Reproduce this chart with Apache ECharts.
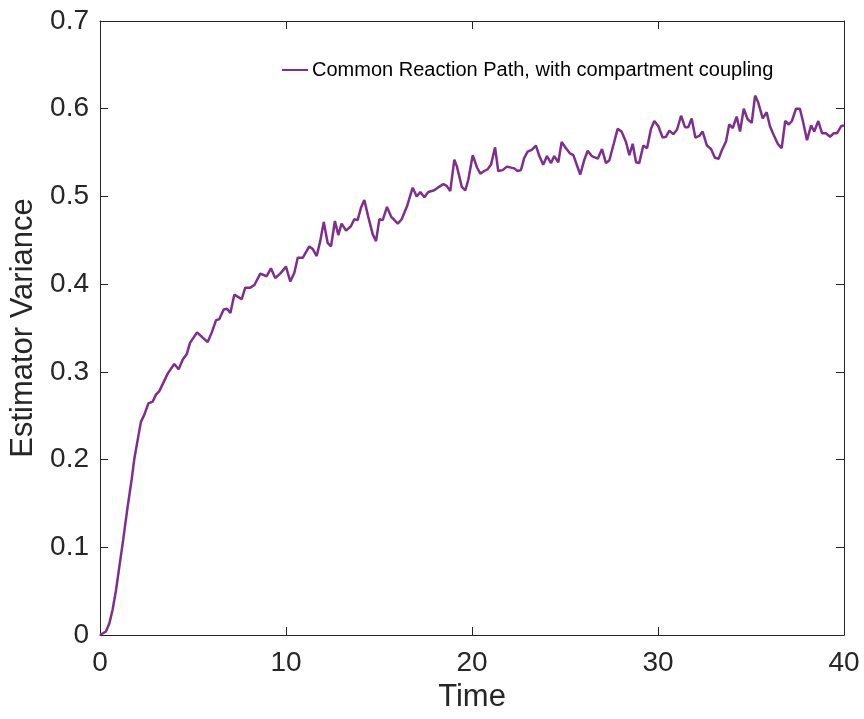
<!DOCTYPE html>
<html>
<head>
<meta charset="utf-8">
<script src="https://cdn.jsdelivr.net/npm/echarts@6/dist/echarts.min.js"></script>
<style>
  html, body { margin: 0; padding: 0; background: #ffffff; }
  #chart { width: 864px; height: 719px; }
</style>
</head>
<body>
<div id="chart"></div>
<script>
// Simulation time points
const time = [
  0, 0.32, 0.50, 0.68, 0.86, 1.04, 1.25, 1.49, 1.70, 1.84, 2.03, 2.20, 2.38, 2.60, 2.83,
  3.01, 3.19, 3.37, 3.64, 3.99, 4.23, 4.45, 4.66, 4.84, 5.22, 5.52, 5.79, 6.01, 6.24, 6.41,
  6.65, 6.83, 7.01, 7.22, 7.62, 7.81, 8.08, 8.30, 8.62, 8.96, 9.19, 9.42, 9.69, 10.00,
  10.23, 10.45, 10.63, 10.90, 11.25, 11.44, 11.65, 11.84, 12.03, 12.24, 12.42, 12.63, 12.81,
  12.99, 13.23, 13.49, 13.67, 13.85, 14.03, 14.21, 14.42, 14.66, 14.84, 15.02, 15.20, 15.43,
  15.65, 16.01, 16.22, 16.51, 16.81, 17.03, 17.22, 17.44, 17.65, 17.97, 18.16, 18.46, 18.64,
  18.83, 19.05, 19.19, 19.45, 19.64, 19.80, 20.04, 20.27, 20.45, 20.66, 20.84, 21.02, 21.24,
  21.41, 21.65, 21.87, 22.27, 22.45, 22.63, 22.81, 22.99, 23.21, 23.44, 23.62, 23.83, 24.03,
  24.25, 24.42, 24.64, 24.82, 25.05, 25.27, 25.45, 25.65, 25.82, 26.04, 26.22, 26.44, 26.76,
  26.99, 27.20, 27.38, 27.62, 27.83, 28.04, 28.28, 28.46, 28.64, 28.82, 28.99, 29.21, 29.41,
  29.62, 29.80, 30.02, 30.25, 30.43, 30.61, 30.82, 31.02, 31.24, 31.45, 31.63, 31.81, 32.01,
  32.22, 32.40, 32.63, 32.85, 33.06, 33.26, 33.42, 33.66, 33.83, 34.02, 34.23, 34.41, 34.61,
  34.82, 35.04, 35.22, 35.39, 35.63, 35.84, 36.02, 36.22, 36.44, 36.65, 36.84, 37.03, 37.20,
  37.42, 37.63, 37.81, 38.01, 38.23, 38.40, 38.62, 38.82, 39.03, 39.25, 39.45, 39.62, 39.84, 40.00
];

// Estimator variance, common reaction path with compartment coupling
const variance = [
  0, 0.004, 0.013, 0.029, 0.051, 0.078, 0.109, 0.147, 0.177, 0.200, 0.223, 0.243, 0.251, 0.264, 0.266,
  0.274, 0.278, 0.286, 0.298, 0.309, 0.303, 0.314, 0.320, 0.333, 0.345, 0.339, 0.334, 0.345, 0.359, 0.360,
  0.371, 0.372, 0.367, 0.388, 0.383, 0.396, 0.396, 0.399, 0.412, 0.409, 0.418, 0.407, 0.412, 0.420,
  0.403, 0.413, 0.430, 0.430, 0.443, 0.440, 0.432, 0.449, 0.471, 0.447, 0.443, 0.472, 0.456,
  0.469, 0.461, 0.466, 0.474, 0.473, 0.487, 0.496, 0.477, 0.457, 0.449, 0.474, 0.473, 0.488,
  0.477, 0.469, 0.474, 0.489, 0.510, 0.500, 0.505, 0.499, 0.505, 0.507, 0.510, 0.514, 0.512,
  0.506, 0.542, 0.534, 0.511, 0.507, 0.519, 0.547, 0.533, 0.526, 0.529, 0.531, 0.536, 0.556,
  0.529, 0.530, 0.534, 0.532, 0.529, 0.530, 0.544, 0.551, 0.553, 0.558, 0.546, 0.536, 0.546,
  0.538, 0.546, 0.539, 0.562, 0.555, 0.549, 0.547, 0.535, 0.525, 0.542, 0.552, 0.546, 0.543,
  0.554, 0.538, 0.541, 0.560, 0.577, 0.574, 0.562, 0.547, 0.560, 0.539, 0.538, 0.558, 0.555,
  0.577, 0.586, 0.580, 0.567, 0.568, 0.575, 0.571, 0.576, 0.592, 0.579, 0.579, 0.589, 0.567,
  0.569, 0.574, 0.558, 0.554, 0.544, 0.543, 0.552, 0.563, 0.582, 0.578, 0.591, 0.574, 0.600,
  0.588, 0.584, 0.615, 0.607, 0.589, 0.596, 0.580, 0.570, 0.560, 0.555, 0.586, 0.582, 0.586,
  0.600, 0.600, 0.584, 0.564, 0.581, 0.574, 0.586, 0.572, 0.572, 0.568, 0.572, 0.572, 0.580, 0.581
];

const seriesName = 'Common Reaction Path, with compartment coupling';
const xTicks = { min: 0, max: 40, interval: 10 };
const yTicks = { min: 0, max: 0.7, interval: 0.1 };

const ink = '#262626';
const lineColor = '#7E2F8E';
const font = '"Liberation Sans", Arial, Helvetica, sans-serif';

const points = time.map((t, i) => [t, variance[i]]);

const frameAxis = (extra) => Object.assign({
  type: 'value',
  axisLine: { show: true, onZero: false, lineStyle: { color: ink, width: 1 } },
  axisTick: { show: true, inside: true, length: 8, lineStyle: { color: ink, width: 1 } },
  splitLine: { show: false }
}, extra);

const chart = echarts.init(document.getElementById('chart'), null, { renderer: 'canvas' });
chart.setOption({
  backgroundColor: '#ffffff',
  animation: false,
  grid: { left: 100, right: 20, top: 21, bottom: 84, containLabel: false },
  legend: {
    show: true,
    left: 277,
    top: 55,
    icon: 'rect',
    itemWidth: 26,
    itemHeight: 2,
    itemGap: 6,
    textStyle: { fontFamily: font, fontSize: 20, color: '#000000', padding: [0, 0, 0, -1] },
    data: [{ name: seriesName, itemStyle: { color: lineColor } }]
  },
  xAxis: [
    frameAxis({
      position: 'bottom',
      min: xTicks.min, max: xTicks.max, interval: xTicks.interval,
      name: 'Time',
      nameLocation: 'middle',
      nameGap: 47,
      nameTextStyle: { fontFamily: font, fontSize: 31, color: ink },
      axisLabel: { show: true, margin: 14, fontFamily: font, fontSize: 28, color: ink }
    }),
    frameAxis({
      position: 'top',
      min: xTicks.min, max: xTicks.max, interval: xTicks.interval,
      axisLabel: { show: false }
    })
  ],
  yAxis: [
    frameAxis({
      position: 'left',
      min: yTicks.min, max: yTicks.max, interval: yTicks.interval,
      name: 'Estimator Variance',
      nameLocation: 'middle',
      nameGap: 58,
      nameTextStyle: { fontFamily: font, fontSize: 31, color: ink },
      axisLabel: {
        show: true, margin: 11, fontFamily: font, fontSize: 28, color: ink,
        formatter: (v) => (Math.round(v * 10) / 10).toString()
      }
    }),
    frameAxis({
      position: 'right',
      min: yTicks.min, max: yTicks.max, interval: yTicks.interval,
      axisLabel: { show: false }
    })
  ],
  series: [{
    name: seriesName,
    type: 'line',
    xAxisIndex: 0,
    yAxisIndex: 0,
    data: points,
    showSymbol: false,
    symbol: 'none',
    smooth: false,
    lineStyle: { color: lineColor, width: 2.5 },
    itemStyle: { color: lineColor }
  }]
});
</script>
</body>
</html>
